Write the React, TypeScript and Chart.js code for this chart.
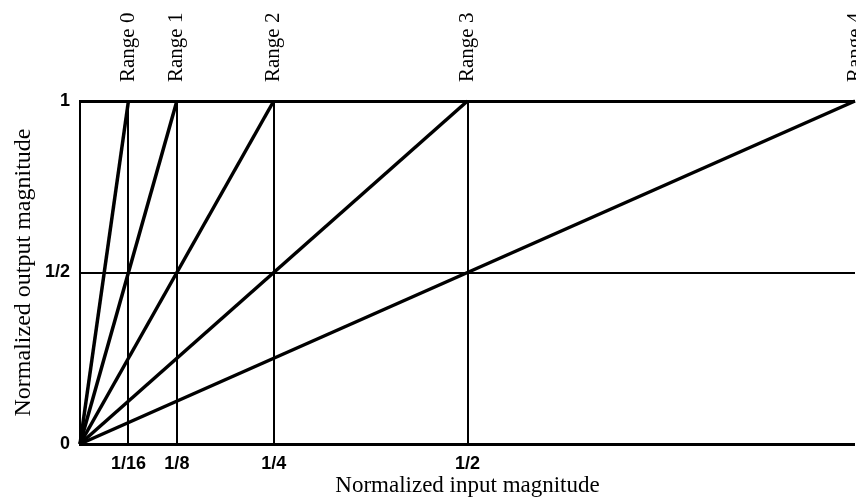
import React, { useEffect, useRef } from "react";
import { Chart, registerables } from "chart.js";

Chart.register(...registerables);

const rangeLabels = ["Range 0", "Range 1", "Range 2", "Range 3", "Range 4"];
const rangeFullScale = [1 / 16, 1 / 8, 1 / 4, 1 / 2, 1];
const xTickValues = [0, 1 / 16, 1 / 8, 1 / 4, 1 / 2, 1];
const xTickLabels = ["", "1/16", "1/8", "1/4", "1/2", ""];
const yTickValues = [0, 0.5, 1];
const yTickLabels = ["0", "1/2", "1"];
const xTitle = "Normalized input magnitude";
const yTitle = "Normalized output magnitude";

const SERIF = "'Liberation Serif', 'DejaVu Serif', serif";
const SANS = "'Liberation Sans', Arial, sans-serif";

const rangeLabelPlugin = {
  id: "rangeLabels",
  afterDraw(chart: any) {
    const ctx = chart.ctx;
    const xs = chart.scales.x;
    const top = chart.chartArea.top;
    ctx.save();
    ctx.fillStyle = "#000";
    ctx.font = `21px ${SERIF}`;
    ctx.textAlign = "left";
    ctx.textBaseline = "middle";
    rangeLabels.forEach((label, i) => {
      const px = xs.getPixelForValue(rangeFullScale[i]);
      ctx.save();
      ctx.translate(px, top - 19);
      ctx.rotate(-Math.PI / 2);
      ctx.fillText(label, 0, 0);
      ctx.restore();
    });
    ctx.restore();
  },
};

export default function App() {
  const canvasRef = useRef<HTMLCanvasElement | null>(null);

  useEffect(() => {
    if (!canvasRef.current) return;
    const datasets = rangeLabels.map((label, i) => ({
      label,
      data: [
        { x: 0, y: 0 },
        { x: rangeFullScale[i], y: 1 },
      ],
      showLine: true,
      borderColor: "#000",
      borderWidth: 3.5,
      pointRadius: 0,
      clip: false as any,
    }));

    const chart = new Chart(canvasRef.current, {
      type: "scatter",
      data: { datasets },
      plugins: [rangeLabelPlugin],
      options: {
        animation: false,
        responsive: false,
        maintainAspectRatio: false,
        events: [],
        layout: { padding: { top: 101, right: 1, left: 0, bottom: 0 } },
        plugins: {
          legend: { display: false },
          tooltip: { enabled: false },
          title: { display: false },
        },
        scales: {
          x: {
            type: "linear",
            min: 0,
            max: 1,
            afterBuildTicks: (axis: any) => {
              axis.ticks = xTickValues.map((v) => ({ value: v }));
            },
            afterFit: (axis: any) => {
              axis.height = 58;
              axis.paddingLeft = 0;
              axis.paddingRight = 0;
            },
            ticks: {
              autoSkip: false,
              maxRotation: 0,
              padding: 9,
              color: "#000",
              font: { family: SANS, size: 18, weight: "bold" },
              callback: (_v: any, i: number) => xTickLabels[i],
            },
            grid: {
              drawTicks: false,
              color: "#000",
              lineWidth: (c: any) =>
                c.tick && c.tick.value > 0 && c.tick.value < 1 ? 2 : 0,
            },
            border: { display: true, color: "#000", width: 3 },
            title: {
              display: true,
              text: xTitle,
              color: "#000",
              font: { family: SERIF, size: 23 },
              padding: { top: 0, bottom: 2 },
            },
          },
          y: {
            type: "linear",
            min: 0,
            max: 1,
            afterBuildTicks: (axis: any) => {
              axis.ticks = yTickValues.map((v) => ({ value: v }));
            },
            afterFit: (axis: any) => {
              axis.width = 80;
            },
            ticks: {
              autoSkip: false,
              padding: 10,
              color: "#000",
              font: { family: SANS, size: 18, weight: "bold" },
              callback: (_v: any, i: number) => yTickLabels[i],
            },
            grid: {
              drawTicks: false,
              color: "#000",
              lineWidth: (c: any) =>
                c.tick && c.tick.value === 1 ? 3 : c.tick && c.tick.value > 0 ? 2 : 0,
            },
            border: { display: true, color: "#000", width: 2 },
            title: {
              display: true,
              text: yTitle,
              color: "#000",
              font: { family: SERIF, size: 24 },
              padding: { top: 9, bottom: 0 },
            },
          },
        },
      } as any,
    });
    return () => chart.destroy();
  }, []);

  return (
    <div style={{ position: "absolute", left: 0, top: 0, width: 856, height: 502, background: "#fff" }}>
      <canvas ref={canvasRef} width={856} height={502} style={{ width: 856, height: 502, display: "block" }} />
    </div>
  );
}
